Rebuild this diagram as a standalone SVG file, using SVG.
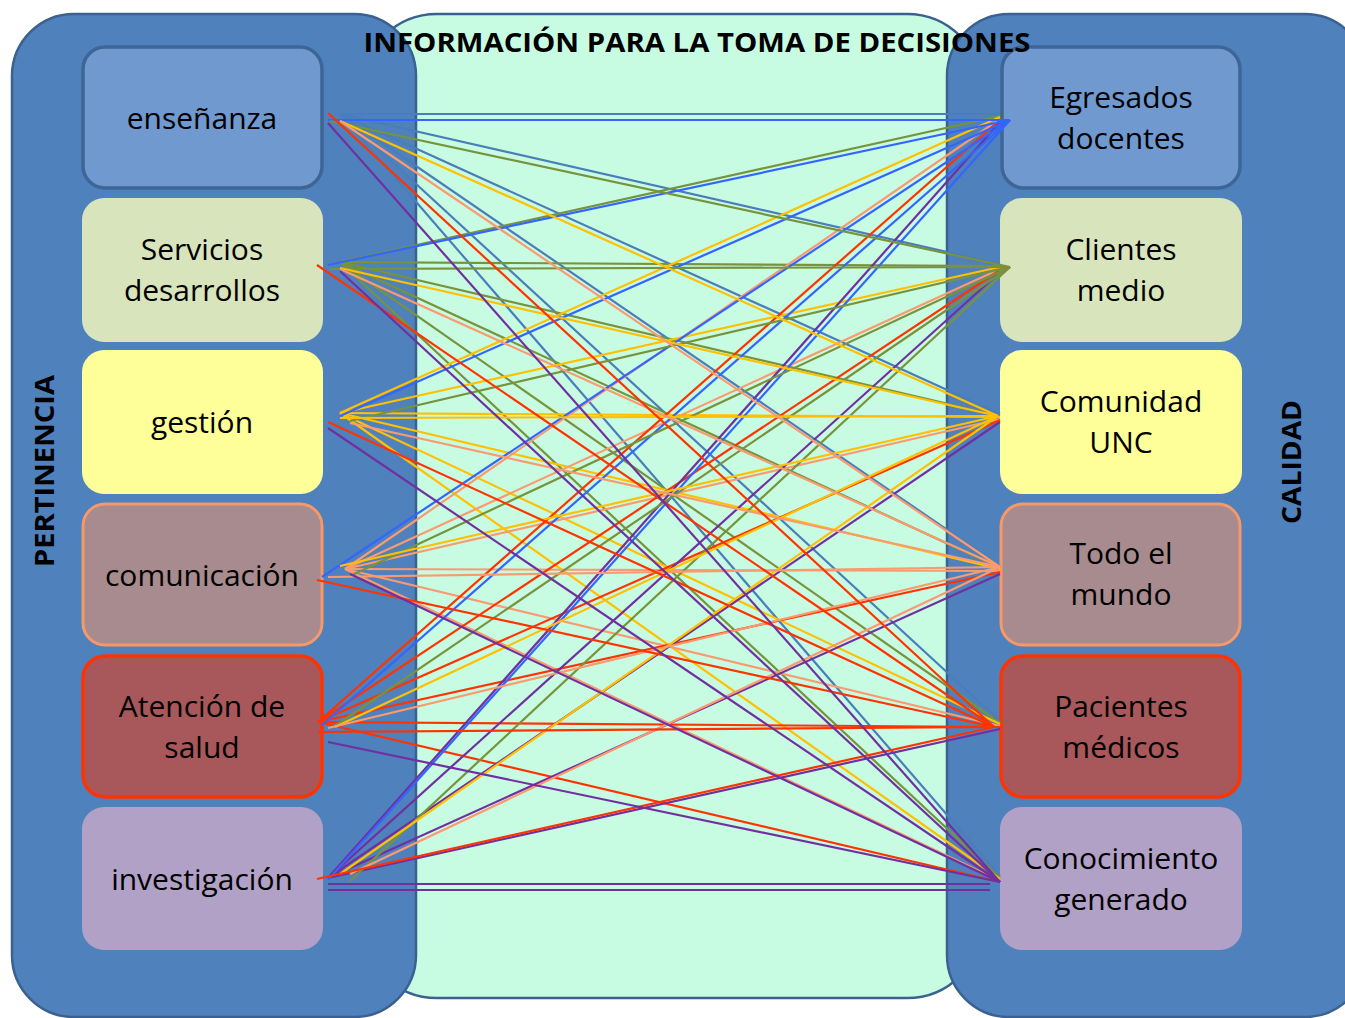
<svg xmlns="http://www.w3.org/2000/svg" width="1345" height="1018" viewBox="0 0 1345 1018">
<style>
.panel{fill:#4f81bd;stroke:#3a6190;stroke-width:2.5}
.t{font-family:"Open Sans","Noto Sans",sans-serif;font-size:30px;fill:#000;text-anchor:middle}
.b{font-family:"Open Sans","Noto Sans",sans-serif;font-weight:bold;font-size:27px;fill:#000;text-anchor:middle}
.n0{fill:#7099cf;stroke:#3d6596;stroke-width:3.5}
.n1{fill:#d8e4bc}
.n2{fill:#ffff99}
.n3{fill:#a88b8e;stroke:#f79868;stroke-width:3}
.n4{fill:#a8585b;stroke:#ff3300;stroke-width:3.5}
.n5{fill:#b2a1c7}
#connectors line{stroke-width:2.2;fill:none}
.cs{stroke:#4a7ebb}.cb{stroke:#3366ff}.co{stroke:#77933c}.cy{stroke:#ffc000}.cp{stroke:#fa9a70}.cr{stroke:#ff3300}.cv{stroke:#7030a0}
</style>
<rect x="0" y="0" width="1345" height="1018" fill="#ffffff"/>
<g id="center-panel"><rect x="362" y="14" width="620" height="984" rx="75" fill="#c8fce2" stroke="#3a6190" stroke-width="2.5"/></g>
<g id="left-panel"><rect class="panel" x="12" y="14" width="404" height="1003" rx="62"/></g>
<g id="right-panel"><rect class="panel" x="947" y="14" width="420" height="1003" rx="62"/></g>

<g id="n-ensenanza"><rect class="n0" x="83" y="47" width="239" height="141" rx="22"/><text class="t" x="202" y="129">enseñanza</text></g>
<g id="n-servicios"><rect class="n1" x="82" y="198" width="241" height="144" rx="22"/><text class="t" x="202" y="260">Servicios</text><text class="t" x="202" y="301">desarrollos</text></g>
<g id="n-gestion"><rect class="n2" x="82" y="350" width="241" height="144" rx="22"/><text class="t" x="202" y="433">gestión</text></g>
<g id="n-comunicacion"><rect class="n3" x="83" y="504" width="239" height="141" rx="22"/><text class="t" x="202" y="586">comunicación</text></g>
<g id="n-atencion"><rect class="n4" x="83" y="656" width="239" height="141" rx="22"/><text class="t" x="202" y="717">Atención de</text><text class="t" x="202" y="758">salud</text></g>
<g id="n-investigacion"><rect class="n5" x="82" y="807" width="241" height="143" rx="22"/><text class="t" x="202" y="890">investigación</text></g>

<g id="n-egresados"><rect class="n0" x="1002" y="47" width="238" height="141" rx="22"/><text class="t" x="1121" y="108">Egresados</text><text class="t" x="1121" y="149">docentes</text></g>
<g id="n-clientes"><rect class="n1" x="1000" y="198" width="242" height="144" rx="22"/><text class="t" x="1121" y="260">Clientes</text><text class="t" x="1121" y="301">medio</text></g>
<g id="n-comunidad"><rect class="n2" x="1000" y="350" width="242" height="144" rx="22"/><text class="t" x="1121" y="412">Comunidad</text><text class="t" x="1121" y="453">UNC</text></g>
<g id="n-todo"><rect class="n3" x="1001" y="504" width="239" height="141" rx="22"/><text class="t" x="1121" y="564">Todo el</text><text class="t" x="1121" y="605">mundo</text></g>
<g id="n-pacientes"><rect class="n4" x="1001" y="656" width="239" height="141" rx="22"/><text class="t" x="1121" y="717">Pacientes</text><text class="t" x="1121" y="758">médicos</text></g>
<g id="n-conocimiento"><rect class="n5" x="1000" y="807" width="242" height="143" rx="22"/><text class="t" x="1121" y="869">Conocimiento</text><text class="t" x="1121" y="910">generado</text></g>

<g id="connectors">
<line class="cs" x1="340" y1="114" x2="1000" y2="114"/>
<line class="cs" x1="340" y1="114" x2="1000" y2="264"/>
<line class="cs" x1="340" y1="114" x2="1000" y2="414"/>
<line class="cs" x1="340" y1="114" x2="1000" y2="566"/>
<line class="cs" x1="340" y1="114" x2="1000" y2="721"/>
<line class="cs" x1="340" y1="114" x2="1000" y2="876"/>
<line class="co" x1="340" y1="262" x2="1000" y2="116"/>
<line class="co" x1="340" y1="262" x2="1000" y2="266"/>
<line class="co" x1="340" y1="262" x2="1000" y2="416"/>
<line class="co" x1="340" y1="262" x2="1000" y2="568"/>
<line class="co" x1="340" y1="262" x2="1000" y2="723"/>
<line class="co" x1="340" y1="262" x2="1000" y2="878"/>
<line class="cy" x1="340" y1="413" x2="1000" y2="117"/>
<line class="cy" x1="340" y1="413" x2="1000" y2="267"/>
<line class="cy" x1="340" y1="413" x2="1000" y2="417"/>
<line class="cy" x1="340" y1="413" x2="1000" y2="569"/>
<line class="cy" x1="340" y1="413" x2="1000" y2="724"/>
<line class="cy" x1="340" y1="413" x2="1000" y2="879"/>
<line class="cp" x1="345" y1="569" x2="1000" y2="119"/>
<line class="cp" x1="345" y1="569" x2="1000" y2="269"/>
<line class="cp" x1="345" y1="569" x2="1000" y2="419"/>
<line class="cp" x1="345" y1="569" x2="1000" y2="571"/>
<line class="cp" x1="345" y1="569" x2="1000" y2="726"/>
<line class="cp" x1="345" y1="569" x2="1000" y2="881"/>
<line class="cr" x1="318" y1="722" x2="1000" y2="120"/>
<line class="cr" x1="318" y1="722" x2="1000" y2="270"/>
<line class="cr" x1="318" y1="722" x2="1000" y2="420"/>
<line class="cr" x1="318" y1="722" x2="1000" y2="572"/>
<line class="cr" x1="318" y1="722" x2="1000" y2="727"/>
<line class="cr" x1="318" y1="722" x2="1000" y2="882"/>
<line class="cv" x1="328" y1="878" x2="1000" y2="122"/>
<line class="cv" x1="328" y1="878" x2="1000" y2="272"/>
<line class="cv" x1="328" y1="878" x2="1000" y2="422"/>
<line class="cv" x1="328" y1="878" x2="1000" y2="574"/>
<line class="cv" x1="328" y1="878" x2="1000" y2="729"/>
<line class="cv" x1="328" y1="884" x2="990" y2="884"/>

<line class="cb" x1="1010" y1="120" x2="328" y2="120"/>
<line class="cb" x1="1010" y1="120" x2="328" y2="265"/>
<line class="cb" x1="1010" y1="120" x2="340" y2="416"/>
<line class="cb" x1="1010" y1="120" x2="322" y2="577"/>
<line class="cb" x1="1010" y1="120" x2="322" y2="725"/>
<line class="cb" x1="1010" y1="120" x2="328" y2="880"/>
<line class="co" x1="1010" y1="267" x2="330" y2="121"/>
<line class="co" x1="1010" y1="267" x2="330" y2="269"/>
<line class="co" x1="1010" y1="267" x2="350" y2="421"/>
<line class="co" x1="1010" y1="267" x2="350" y2="576"/>
<line class="co" x1="1010" y1="267" x2="335" y2="726"/>
<line class="co" x1="1010" y1="267" x2="350" y2="881"/>
<line class="cy" x1="998" y1="416" x2="340" y2="121"/>
<line class="cy" x1="998" y1="416" x2="340" y2="268"/>
<line class="cy" x1="998" y1="416" x2="340" y2="418"/>
<line class="cy" x1="998" y1="416" x2="340" y2="566"/>
<line class="cy" x1="998" y1="416" x2="335" y2="727"/>
<line class="cy" x1="998" y1="416" x2="340" y2="874"/>
<line class="cp" x1="1000" y1="567" x2="340" y2="121"/>
<line class="cp" x1="1000" y1="567" x2="340" y2="269"/>
<line class="cp" x1="1000" y1="567" x2="350" y2="423"/>
<line class="cp" x1="1000" y1="567" x2="328" y2="577"/>
<line class="cp" x1="1000" y1="567" x2="328" y2="728"/>
<line class="cp" x1="1000" y1="567" x2="350" y2="874"/>
<line class="cr" x1="994" y1="727" x2="328" y2="113"/>
<line class="cr" x1="994" y1="727" x2="317" y2="265"/>
<line class="cr" x1="994" y1="727" x2="328" y2="422"/>
<line class="cr" x1="994" y1="727" x2="317" y2="580"/>
<line class="cr" x1="994" y1="727" x2="318" y2="732"/>
<line class="cr" x1="994" y1="727" x2="317" y2="879"/>
<line class="cv" x1="1000" y1="882" x2="328" y2="123"/>
<line class="cv" x1="1000" y1="882" x2="340" y2="271"/>
<line class="cv" x1="1000" y1="882" x2="328" y2="428"/>
<line class="cv" x1="1000" y1="882" x2="350" y2="574"/>
<line class="cv" x1="1000" y1="882" x2="328" y2="742"/>
<line class="cv" x1="990" y1="890" x2="328" y2="890"/>
</g>

<g id="labels">
<text class="b" x="697" y="52" textLength="667" lengthAdjust="spacingAndGlyphs">INFORMACIÓN PARA LA TOMA DE DECISIONES</text>
<text class="b" transform="translate(54 471) rotate(-90)" x="0" y="0" textLength="192" lengthAdjust="spacingAndGlyphs">PERTINENCIA</text>
<text class="b" transform="translate(1301 462) rotate(-90)" x="0" y="0" textLength="124" lengthAdjust="spacingAndGlyphs">CALIDAD</text>
</g>
</svg>
